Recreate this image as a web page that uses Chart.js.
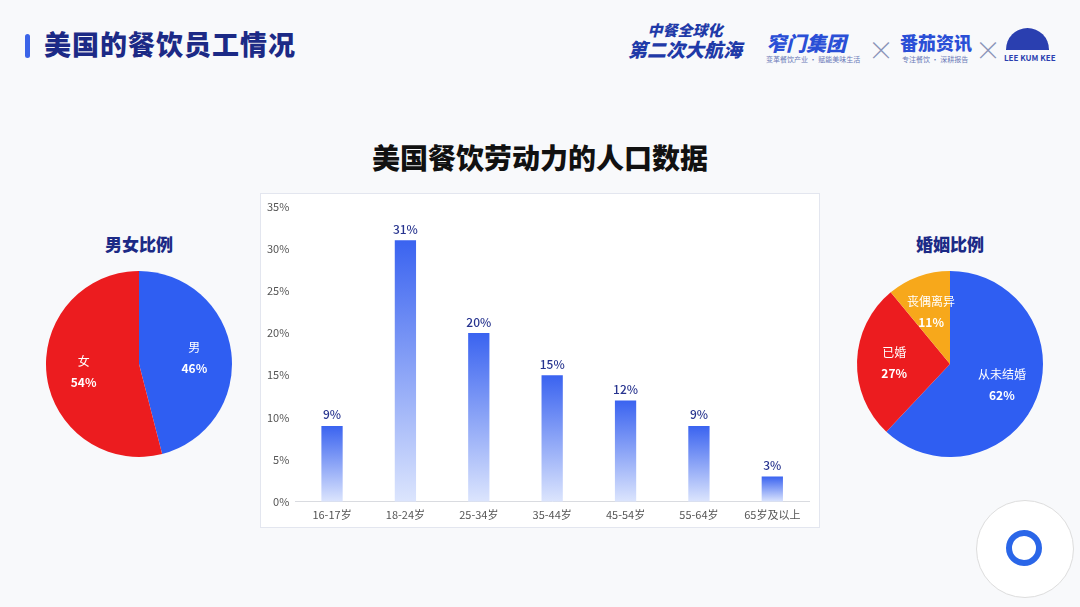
<!DOCTYPE html>
<html>
<head>
<meta charset="utf-8">
<script src="https://cdn.jsdelivr.net/npm/chart.js@4.4.1/dist/chart.umd.min.js"></script>
<style>
  body { margin:0; width:1080px; height:607px; background:#f8f9fb; font-family:"Noto Sans CJK SC","Noto Sans",sans-serif; position:relative; overflow:hidden; }
  .abs { position:absolute; }
  #pageTitle { left:44px; top:24px; font-size:27px; font-weight:900; color:#1c2a86; letter-spacing:1px; }
  #titleBar { left:25px; top:34px; width:5px; height:24px; border-radius:3px; background:#3b64e8; }
  #chartTitle { left:0; width:1080px; top:137px; text-align:center; font-size:28px; font-weight:900; color:#111; }
  .pieTitle { width:200px; text-align:center; font-size:17px; font-weight:900; color:#1c2a86; top:231px; }
  #barBox { left:260px; top:193px; width:560px; height:335px; background:#fff; border:1px solid #e3e6ef; box-sizing:border-box; }
  .logo { color:#1f3aa8; font-weight:900; }
</style>
</head>
<body>
<div id="titleBar" class="abs"></div>
<div id="pageTitle" class="abs">美国的餐饮员工情况</div>

<div class="abs logo" style="left:628px;top:20px;font-size:15px;line-height:19px;text-align:center;font-style:italic;">中餐全球化<br><span style="font-size:19px;">第二次大航海</span></div>
<div class="abs logo" style="left:766px;top:28px;font-size:20px;font-style:italic;color:#2a4fd6;">窄门集团</div>
<div class="abs" style="left:766px;top:54px;font-size:7px;color:#6a7ab8;">变革餐饮产业 · 赋能美味生活</div>
<div class="abs" style="left:868px;top:30px;font-size:26px;color:#8a94b8;font-weight:200;">×</div>
<div class="abs logo" style="left:900px;top:29px;font-size:18px;color:#2a4fd6;">番茄资讯</div>
<div class="abs" style="left:902px;top:54px;font-size:7px;color:#6a7ab8;">专注餐饮 · 深耕报告</div>
<div class="abs" style="left:975px;top:30px;font-size:26px;color:#8a94b8;font-weight:200;">×</div>
<div class="abs" style="left:1006px;top:28px;width:43px;height:22px;border-radius:22px 22px 0 0;background:#2a3fb0;"></div>
<div class="abs" style="left:1004px;top:52px;font-size:8px;color:#2a3fb0;font-weight:700;">LEE KUM KEE</div>

<div id="chartTitle" class="abs">美国餐饮劳动力的人口数据</div>

<div class="abs pieTitle" style="left:39px;">男女比例</div>
<div class="abs" style="left:39px;top:264px;width:200px;height:200px;"><canvas id="genderPie" width="200" height="200"></canvas></div>

<div class="abs pieTitle" style="left:850px;">婚姻比例</div>
<div class="abs" style="left:850px;top:264px;width:200px;height:200px;"><canvas id="marriagePie" width="200" height="200"></canvas></div>

<div id="barBox" class="abs"><canvas id="ageBar" width="558" height="333"></canvas></div>

<div class="abs" style="left:976px;top:500px;width:96px;height:96px;border-radius:50%;background:#fff;border:1px solid #ddd;"></div>
<div class="abs" style="left:1006px;top:530px;width:24px;height:24px;border-radius:50%;border:6px solid #2a66e8;"></div>

<script>
// data
const ageLabels = ["16-17岁", "18-24岁", "25-34岁", "35-44岁", "45-54岁", "55-64岁", "65岁及以上"];
const ageValues = [9, 31, 20, 15, 12, 9, 3];
const yTicks = [0, 5, 10, 15, 20, 25, 30, 35];

const genderLabels = ["男", "女"];
const genderValues = [46, 54];
const genderColors = ["#2f5ef2", "#ec1c1f"];

const marriageLabels = ["从未结婚", "已婚", "丧偶离异"];
const marriageValues = [62, 27, 11];
const marriageColors = ["#2f5ef2", "#ec1c1f", "#f7a81b"];

const FONT = '"Noto Sans CJK SC", "Noto Sans", sans-serif';

// labels above bars
const barLabels = {
  id: 'barLabels',
  afterDatasetsDraw(chart) {
    const ctx = chart.ctx;
    const meta = chart.getDatasetMeta(0);
    ctx.save();
    ctx.fillStyle = '#27348f';
    ctx.font = '500 12px ' + FONT;
    ctx.textAlign = 'center';
    ctx.textBaseline = 'bottom';
    meta.data.forEach((bar, i) => {
      ctx.fillText(ageValues[i] + '%', bar.x, bar.y - 5);
    });
    ctx.restore();
  }
};

// name + percent inside slices
const sliceLabels = {
  id: 'sliceLabels',
  afterDatasetsDraw(chart) {
    const ctx = chart.ctx;
    const meta = chart.getDatasetMeta(0);
    const labels = chart.data.labels;
    const vals = chart.data.datasets[0].data;
    ctx.save();
    ctx.fillStyle = '#fff';
    ctx.textAlign = 'center';
    ctx.textBaseline = 'middle';
    meta.data.forEach((arc, i) => {
      const mid = (arc.startAngle + arc.endAngle) / 2;
      const r = arc.outerRadius * 0.6;
      const x = arc.x + Math.cos(mid) * r;
      const y = arc.y + Math.sin(mid) * r;
      ctx.font = '12px ' + FONT;
      ctx.fillText(labels[i], x, y - 10);
      ctx.font = 'bold 12px ' + FONT;
      ctx.fillText(vals[i] + '%', x, y + 11);
    });
    ctx.restore();
  }
};

function makePie(id, labels, values, colors) {
  new Chart(document.getElementById(id), {
    type: 'pie',
    data: {
      labels: labels,
      datasets: [{ data: values, backgroundColor: colors, borderWidth: 0 }]
    },
    options: {
      responsive: false,
      animation: false,
      layout: { padding: 7 },
      plugins: { legend: { display: false }, tooltip: { enabled: false } }
    },
    plugins: [sliceLabels]
  });
}

makePie('genderPie', genderLabels, genderValues, genderColors);
makePie('marriagePie', marriageLabels, marriageValues, marriageColors);

new Chart(document.getElementById('ageBar'), {
  type: 'bar',
  data: {
    labels: ageLabels,
    datasets: [{
      data: ageValues,
      backgroundColor(context) {
        const chart = context.chart;
        const area = chart.chartArea;
        if (!area) return '#3a62f0';
        const y = chart.scales.y;
        const top = y.getPixelForValue(ageValues[context.dataIndex]);
        const base = y.getPixelForValue(0);
        const g = chart.ctx.createLinearGradient(0, top, 0, base);
        g.addColorStop(0, '#3a63f0');
        g.addColorStop(1, '#dce5fd');
        return g;
      },
      borderWidth: 0,
      barPercentage: 0.29,
      categoryPercentage: 1
    }]
  },
  options: {
    responsive: false,
    animation: false,
    layout: { padding: { top: 4, right: 10, left: 0, bottom: 0 } },
    plugins: { legend: { display: false }, tooltip: { enabled: false } },
    scales: {
      x: {
        grid: { display: false, drawTicks: false },
        border: { display: true, color: '#d9dbe0' },
        ticks: { color: '#555', font: { size: 11, family: FONT }, padding: 6 }
      },
      y: {
        min: 0, max: 35,
        afterBuildTicks(axis) { axis.ticks = yTicks.map(v => ({ value: v })); },
        grid: { display: false, drawTicks: false },
        border: { display: false },
        ticks: { color: '#555', font: { size: 11, family: FONT }, padding: 6, callback: v => v + '%' }
      }
    }
  },
  plugins: [barLabels]
});
</script>
</body>
</html>
